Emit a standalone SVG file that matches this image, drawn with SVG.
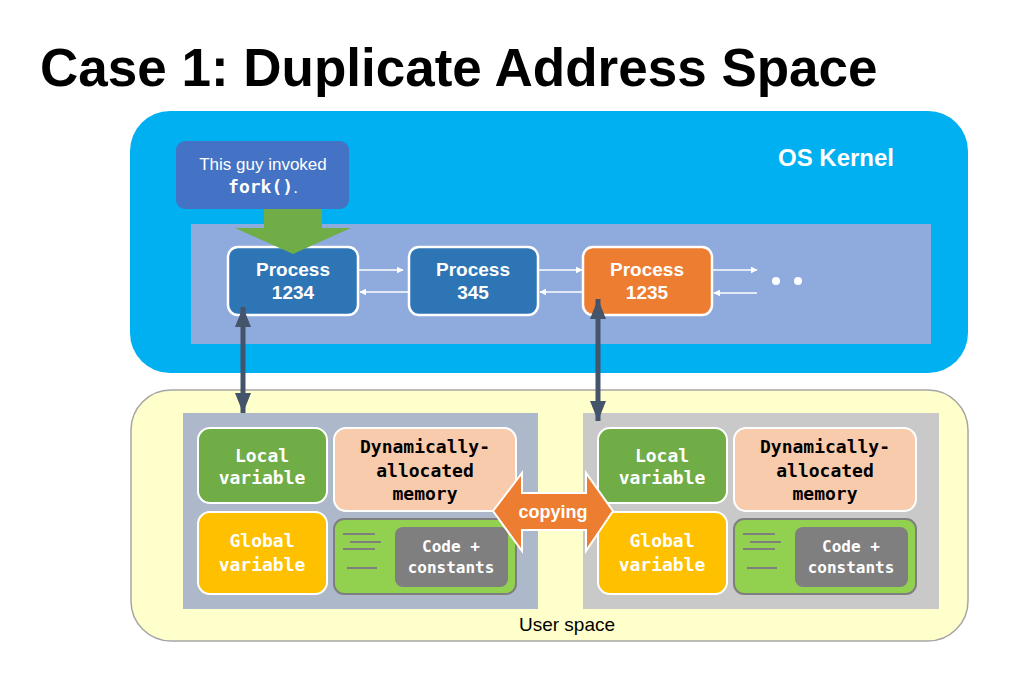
<svg xmlns="http://www.w3.org/2000/svg" width="1034" height="677" viewBox="0 0 1034 677">
<style>
.proc{stroke:#fff;stroke-width:2.5}
.pt{font-family:"Liberation Sans",Arial,sans-serif;font-weight:bold;font-size:19px;fill:#fff;text-anchor:middle}
.mono{font-family:"DejaVu Sans Mono","Liberation Mono",monospace;font-weight:bold;text-anchor:middle}
.mb{stroke:#fff;stroke-width:2}
.wl{stroke:#fff;stroke-width:1.5;fill:none}
.cl{stroke:#7f7f7f;stroke-width:2}
</style>
<defs>
<marker id="wa" viewBox="0 0 10 10" refX="9" refY="5" markerWidth="7" markerHeight="7" markerUnits="userSpaceOnUse" orient="auto"><path d="M0,0 L10,5 L0,10 z" fill="#fff"/></marker>
<marker id="da" viewBox="0 0 10 10" refX="10" refY="5" markerWidth="20" markerHeight="16" markerUnits="userSpaceOnUse" orient="auto-start-reverse" preserveAspectRatio="none"><path d="M0,0 L10,5 L0,10 z" fill="#44546a"/></marker>
<g id="memtpl">
<rect class="mb" x="198" y="428" width="129" height="75" rx="12" fill="#70ad47"/>
<text class="mono" x="262" y="462" font-size="18" fill="#fff">Local</text>
<text class="mono" x="262" y="484" font-size="18" fill="#fff">variable</text>
<rect class="mb" x="334" y="428" width="182" height="83" rx="12" fill="#f8cbad"/>
<text class="mono" x="425" y="453" font-size="18" fill="#000">Dynamically-</text>
<text class="mono" x="425" y="477" font-size="18" fill="#000">allocated</text>
<text class="mono" x="425" y="500" font-size="18" fill="#000">memory</text>
<rect class="mb" x="198" y="512" width="129" height="82" rx="12" fill="#ffc000"/>
<text class="mono" x="262" y="547" font-size="18" fill="#fff">Global</text>
<text class="mono" x="262" y="571" font-size="18" fill="#fff">variable</text>
<rect x="334" y="519" width="182" height="75" rx="10" fill="#92d050" stroke="#7f7f7f" stroke-width="2"/>
<line class="cl" x1="343" y1="534" x2="375" y2="534"/>
<line class="cl" x1="350" y1="542" x2="381" y2="542"/>
<line class="cl" x1="343" y1="549" x2="375" y2="549"/>
<line class="cl" x1="347" y1="568" x2="377" y2="568"/>
<rect x="395" y="527" width="113" height="60" rx="8" fill="#7f7f7f"/>
<text class="mono" x="451" y="552" font-size="16" fill="#fff">Code +</text>
<text class="mono" x="451" y="573" font-size="16" fill="#fff">constants</text>
</g>
</defs>

<text id="title" x="40" y="86" font-family="'Liberation Sans',Arial,sans-serif" font-weight="bold" font-size="53">Case 1: Duplicate Address Space</text>

<g id="kernel">
<rect x="130" y="111" width="838" height="262" rx="40" fill="#00b0f0"/>
<text x="836" y="166" font-family="'Liberation Sans',Arial,sans-serif" font-weight="bold" font-size="24" fill="#fff" text-anchor="middle">OS Kernel</text>
<rect x="191" y="224" width="740" height="120" fill="#8faadc"/>
</g>

<g id="userspace">
<rect x="131" y="390" width="837" height="251" rx="40" fill="#ffffcc" stroke="#a6a6a6" stroke-width="1.5"/>
<text x="567" y="631" font-family="'Liberation Sans',Arial,sans-serif" font-size="19" fill="#000" text-anchor="middle">User space</text>
</g>

<g id="mem-parent">
<rect x="183" y="413" width="355" height="196" fill="#adb9ca"/>
<use href="#memtpl"/>
</g>
<g id="mem-child">
<rect x="583" y="413" width="356" height="196" fill="#c9c9c9"/>
<use href="#memtpl" transform="translate(400,0)"/>
</g>

<g id="callout">
<rect x="176" y="141" width="173" height="68" rx="9" fill="#4472c4"/>
<text x="263" y="170" font-family="'Liberation Sans',Arial,sans-serif" font-size="17" fill="#fff" text-anchor="middle">This guy invoked</text>
<text x="263" y="193" font-family="'Liberation Sans',Arial,sans-serif" font-size="17" fill="#fff" text-anchor="middle"><tspan font-family="'DejaVu Sans Mono',monospace" font-weight="bold" font-size="18">fork()</tspan>.</text>
</g>

<g id="proc1234">
<rect class="proc" x="228" y="247" width="130" height="68" rx="10" fill="#2e75b6"/>
<text class="pt" x="293" y="276">Process</text>
<text class="pt" x="293" y="299">1234</text>
</g>
<g id="proc345">
<rect class="proc" x="409" y="247" width="129" height="68" rx="10" fill="#2e75b6"/>
<text class="pt" x="473" y="276">Process</text>
<text class="pt" x="473" y="299">345</text>
</g>
<g id="proc1235">
<rect class="proc" x="583" y="247" width="129" height="68" rx="10" fill="#ed7d31"/>
<text class="pt" x="647" y="276">Process</text>
<text class="pt" x="647" y="299">1235</text>
</g>

<g id="fork-arrow">
<path d="M264,209 L322,209 L322,228 L351,228 L293,254 L235,228 L264,228 Z" fill="#70ad47"/>
</g>

<g id="connectors">
<line class="wl" x1="359" y1="270" x2="403" y2="270" marker-end="url(#wa)"/>
<line class="wl" x1="408" y1="292" x2="360" y2="292" marker-end="url(#wa)"/>
<line class="wl" x1="539" y1="270" x2="582" y2="270" marker-end="url(#wa)"/>
<line class="wl" x1="582" y1="292" x2="540" y2="292" marker-end="url(#wa)"/>
<line class="wl" x1="713" y1="270" x2="757" y2="270" marker-end="url(#wa)"/>
<line class="wl" x1="757" y1="293" x2="714" y2="293" marker-end="url(#wa)"/>
<circle cx="776" cy="281" r="4" fill="#fff"/>
<circle cx="798" cy="281" r="4" fill="#fff"/>
<line x1="243" y1="307" x2="243" y2="413" stroke="#44546a" stroke-width="5" marker-start="url(#da)" marker-end="url(#da)"/>
<line x1="598" y1="299" x2="598" y2="421" stroke="#44546a" stroke-width="5" marker-start="url(#da)" marker-end="url(#da)"/>
</g>

<g id="copying">
<path d="M493,511 L522,473 L522,493 L586,493 L586,473 L613,511 L586,551 L586,530 L522,530 L522,551 Z" fill="#ed7d31" stroke="#fff" stroke-width="2" stroke-linejoin="miter"/>
<text x="553" y="518" font-family="'Liberation Sans',Arial,sans-serif" font-weight="bold" font-size="18" fill="#fff" text-anchor="middle">copying</text>
</g>
</svg>
